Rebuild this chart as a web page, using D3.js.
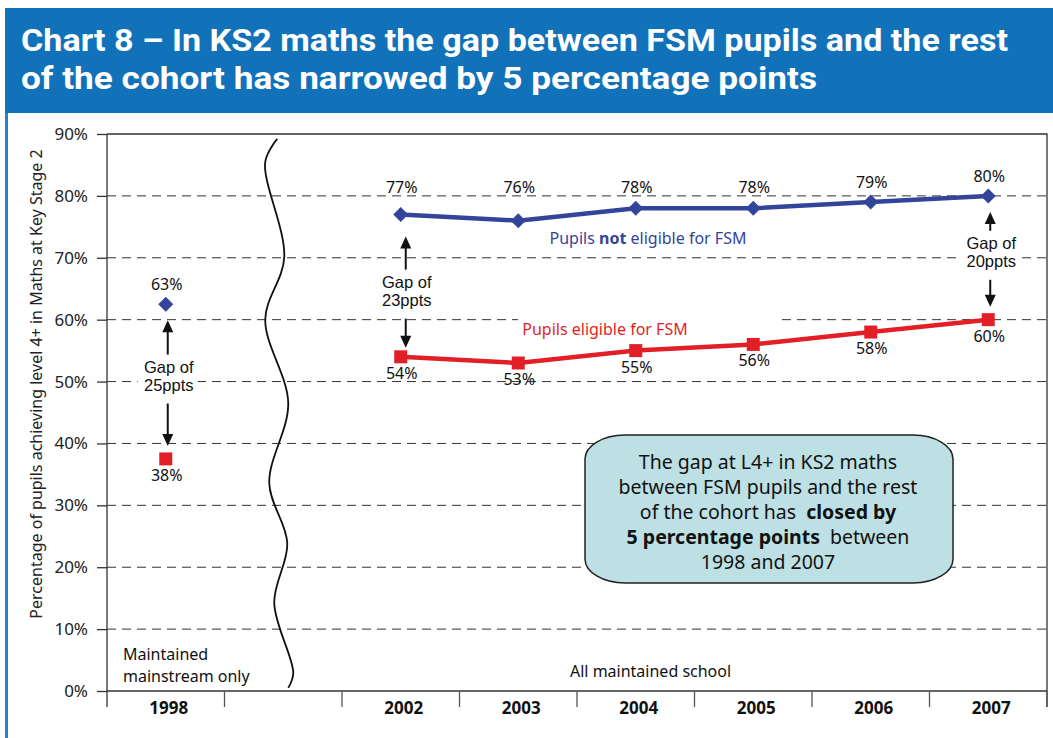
<!DOCTYPE html>
<html><head><meta charset="utf-8">
<script src="https://cdn.jsdelivr.net/npm/d3@7"></script>
<style>body{margin:0;background:#fff}svg{display:block}</style>
</head><body>
<svg id="c" width="1053" height="738"></svg>
<script>
// ---- data ----
const categories = ["1998", "", "2002", "2003", "2004", "2005", "2006", "2007"];
const notFsmValues = [62.5, null, 77, 76, 78, 78, 79, 80];
const fsmValues = [37.5, null, 54, 53, 55, 56, 58, 60];
const yTickValues = [0, 10, 20, 30, 40, 50, 60, 70, 80, 90];
const gapYears = ["1998", "2002", "2007"];
const gapLabels = ["25ppts", "23ppts", "20ppts"];
const titleLines = ["Chart 8 \u2013 In KS2 maths the gap between FSM pupils and the rest",
                    "of the cohort has narrowed by 5 percentage points"];
const calloutLines = [
  [["The gap at L4+ in KS2 maths", false]],
  [["between FSM pupils and the rest", false]],
  [["of the cohort has ", false], ["closed by", true]],
  [["5 percentage points", true], [" between", false]],
  [["1998 and 2007", false]]
];
const yTitle = "Percentage of pupils achieving level 4+ in Maths at Key Stage 2";

// ---- setup ----
const svg = d3.select("#c");
const BLUE = "#1172ba", NAVY = "#33449b", RED = "#e21f26";
const FONT = "'Noto Sans', sans-serif";
const m = {left: 107, right: 1047, top: 134, bottom: 691};

const x = d3.scaleBand().domain(categories).range([m.left, m.right]);
const y = d3.scaleLinear().domain([0, 90]).range([m.bottom, m.top]);
const cx = c => x(c) + x.bandwidth() / 2;

// title banner
svg.append("rect").attr("x", 5).attr("y", 8).attr("width", 1048).attr("height", 105).attr("fill", BLUE);
svg.append("rect").attr("x", 5).attr("y", 113).attr("width", 3).attr("height", 625).attr("fill", "#2a80c6");
const titleLens = [987, 796];
titleLines.forEach((t, i) => {
  svg.append("text").attr("x", 21).attr("y", 51 + i * 38)
    .attr("font-family", "Roboto, sans-serif").attr("font-weight", "bold")
    .attr("font-size", 32).attr("fill", "#fff")
    .attr("textLength", titleLens[i]).attr("lengthAdjust", "spacingAndGlyphs").text(t);
});

// grid lines (dashed)
svg.append("g").selectAll("line").data(yTickValues.filter(v => v > 0 && v < 90)).join("line")
  .attr("x1", m.left).attr("x2", m.right).attr("y1", d => y(d)).attr("y2", d => y(d))
  .attr("stroke", "#333").attr("stroke-width", 1).attr("stroke-dasharray", "9,6");

// frame
svg.append("path").attr("d", `M${m.left},${m.top}H${m.right}V${m.bottom + 16}`)
  .attr("fill", "none").attr("stroke", "#333").attr("stroke-width", 1.3);

// y axis
const yAxis = d3.axisLeft(y).tickValues(yTickValues).tickSize(10).tickPadding(9)
  .tickFormat(d => d + "%");
const gy = svg.append("g").attr("transform", `translate(${m.left},0)`).call(yAxis);
gy.attr("font-size", null).attr("font-family", null);
gy.select(".domain").remove();
gy.selectAll(".tick line").attr("stroke", "#333").attr("stroke-width", 1.3);
gy.selectAll(".tick text").attr("font-family", FONT).attr("font-size", 17).attr("fill", "#222");
svg.append("line").attr("x1", m.left).attr("x2", m.left).attr("y1", m.top).attr("y2", m.bottom + 16)
  .attr("stroke", "#333").attr("stroke-width", 1.3);

// x axis
svg.append("line").attr("x1", m.left).attr("x2", m.right).attr("y1", m.bottom).attr("y2", m.bottom)
  .attr("stroke", "#333").attr("stroke-width", 1.3);
svg.append("g").selectAll("line").data(categories).join("line")
  .attr("x1", d => x(d) + x.bandwidth()).attr("x2", d => x(d) + x.bandwidth())
  .attr("y1", m.bottom).attr("y2", m.bottom + 16).attr("stroke", "#555").attr("stroke-width", 1.3);
svg.append("g").selectAll("text").data(categories).join("text")
  .attr("x", d => cx(d) + 3).attr("y", m.bottom + 23).attr("text-anchor", "middle")
  .attr("font-family", FONT).attr("font-weight", "bold").attr("font-size", 17).attr("fill", "#111")
  .text(d => d);

// y title
svg.append("text").attr("transform", `translate(42,384) rotate(-90)`).attr("text-anchor", "middle")
  .attr("font-family", FONT).attr("font-size", 16).attr("fill", "#222").text(yTitle);

// axis break (wavy line) in the blank band
const bc = cx(categories[1]);
const wave = [[-6, 89.2], [-18, 85.5], [1, 70.1], [-18, 60], [5, 46.5], [-14, 33.6], [4, 23.9], [-9, 14.2], [10, 2.9], [5, 0.5]];
svg.append("path")
  .attr("d", d3.line().x(d => bc + d[0]).y(d => y(d[1])).curve(d3.curveCatmullRom.alpha(0.5))(wave))
  .attr("fill", "none").attr("stroke", "#111").attr("stroke-width", 1.8);

// texts in plot
const txt = (xx, yy, t, opts = {}) => svg.append("text").attr("x", xx).attr("y", yy)
  .attr("text-anchor", opts.anchor || "middle").attr("font-family", opts.font || FONT)
  .attr("font-size", opts.size || 16).attr("fill", opts.fill || "#111").text(t);
const t2 = svg.append("text").attr("x", 123).attr("y", 660).attr("font-family", FONT)
  .attr("font-size", 16).attr("fill", "#111");
t2.append("tspan").attr("x", 123).text("Maintained");
t2.append("tspan").attr("x", 123).attr("dy", 22).text("mainstream only");
txt(570, 677, "All maintained school", {anchor: "start"});

// series label backgrounds
svg.append("rect").attr("x", 518).attr("y", 312).attr("width", 264).attr("height", 27).attr("fill", "#fff");

// gap annotations
function arrow(xx, y1, y2) { // tip at y2
  const dir = y2 < y1 ? 1 : -1;
  svg.append("line").attr("x1", xx).attr("x2", xx).attr("y1", y1).attr("y2", y2 + dir * 10)
    .attr("stroke", "#111").attr("stroke-width", 2);
  svg.append("path").attr("d", `M${xx},${y2}L${xx - 5.5},${y2 + dir * 12}L${xx + 5.5},${y2 + dir * 12}Z`).attr("fill", "#111");
}
const GAPFONT = "'Liberation Sans', Arial, sans-serif";
gapYears.forEach((yr, i) => {
  const idx = categories.indexOf(yr);
  const top = y(notFsmValues[idx]), bot = y(fsmValues[idx]);
  const off = yr === "2002" ? 11 : 0;
  const mid = (top + bot) / 2 + off;
  const xx = cx(yr) + (yr === "2002" ? 5 : 2);
  svg.append("rect").attr("x", xx - 30).attr("y", mid - 23).attr("width", 60).attr("height", 40).attr("fill", "#fff");
  txt(xx + 1, mid - 9, "Gap of", {font: GAPFONT, size: 16.5});
  txt(xx + 1, mid + 9.5, gapLabels[i], {font: GAPFONT, size: 16.5});
  arrow(xx, mid - 27, top + (yr === "2002" ? 22 : 16));
  arrow(xx, mid + 22, bot - (yr === "2002" ? 9 : 13));
});

// series lines (2002-2007 only)
const lineGen = d3.line().defined((d, i) => i >= 2 && d != null).x((d, i) => cx(categories[i])).y(d => y(d));
svg.append("path").attr("d", lineGen(notFsmValues)).attr("fill", "none").attr("stroke", NAVY).attr("stroke-width", 4.5);
svg.append("path").attr("d", lineGen(fsmValues)).attr("fill", "none").attr("stroke", RED).attr("stroke-width", 4.5);

// markers
const idxs = categories.map((c, i) => i).filter(i => notFsmValues[i] != null);
svg.append("g").selectAll("path").data(idxs).join("path")
  .attr("d", i => { const px = cx(categories[i]), py = y(notFsmValues[i]);
    return `M${px},${py - 7.5}L${px + 7.5},${py}L${px},${py + 7.5}L${px - 7.5},${py}Z`; })
  .attr("fill", NAVY);
svg.append("g").selectAll("rect").data(idxs).join("rect")
  .attr("x", i => cx(categories[i]) - 6.5).attr("y", i => y(fsmValues[i]) - 6.5)
  .attr("width", 13).attr("height", 13).attr("fill", RED);

// value labels
const fmt = v => Math.round(v) + "%";
svg.append("g").selectAll("text").data(idxs).join("text")
  .attr("x", i => cx(categories[i]) + 1)
  .attr("y", i => i >= 2 ? Math.min(y(notFsmValues[i]) - 14, 193) : y(notFsmValues[i]) - 14)
  .attr("text-anchor", "middle").attr("font-family", FONT).attr("font-size", 16).attr("fill", "#111")
  .text(i => fmt(notFsmValues[i]));
svg.append("g").selectAll("text").data(idxs).join("text")
  .attr("x", i => cx(categories[i]) + 1).attr("y", i => y(fsmValues[i]) + 22)
  .attr("text-anchor", "middle").attr("font-family", FONT).attr("font-size", 16).attr("fill", "#111")
  .text(i => fmt(fsmValues[i]));

// series labels
const nl = svg.append("text").attr("x", 648).attr("y", 244).attr("text-anchor", "middle")
  .attr("font-family", FONT).attr("font-size", 16).attr("fill", NAVY);
nl.append("tspan").text("Pupils ");
nl.append("tspan").attr("font-weight", "bold").text("not");
nl.append("tspan").text(" eligible for FSM");
txt(605, 335, "Pupils eligible for FSM", {fill: RED});

// callout box
const bx = 585, by = 435, bw = 368, bh = 148;
svg.append("rect").attr("x", bx).attr("y", by).attr("width", bw).attr("height", bh)
  .attr("rx", 40).attr("ry", 24).attr("fill", "#bde0e4").attr("stroke", "#222").attr("stroke-width", 1.5);
const ct = svg.append("text").attr("x", 768).attr("y", 469).attr("text-anchor", "middle")
  .attr("font-family", FONT).attr("font-size", 19.5).attr("fill", "#111");
calloutLines.forEach((parts, i) => {
  parts.forEach((p, j) => {
    const s = ct.append("tspan").attr("font-weight", p[1] ? "bold" : "normal").text(p[0]);
    if (j === 0) s.attr("x", 768).attr("dy", i === 0 ? 0 : 25);
    else s.attr("dx", 5);
  });
});
</script>
</body></html>
